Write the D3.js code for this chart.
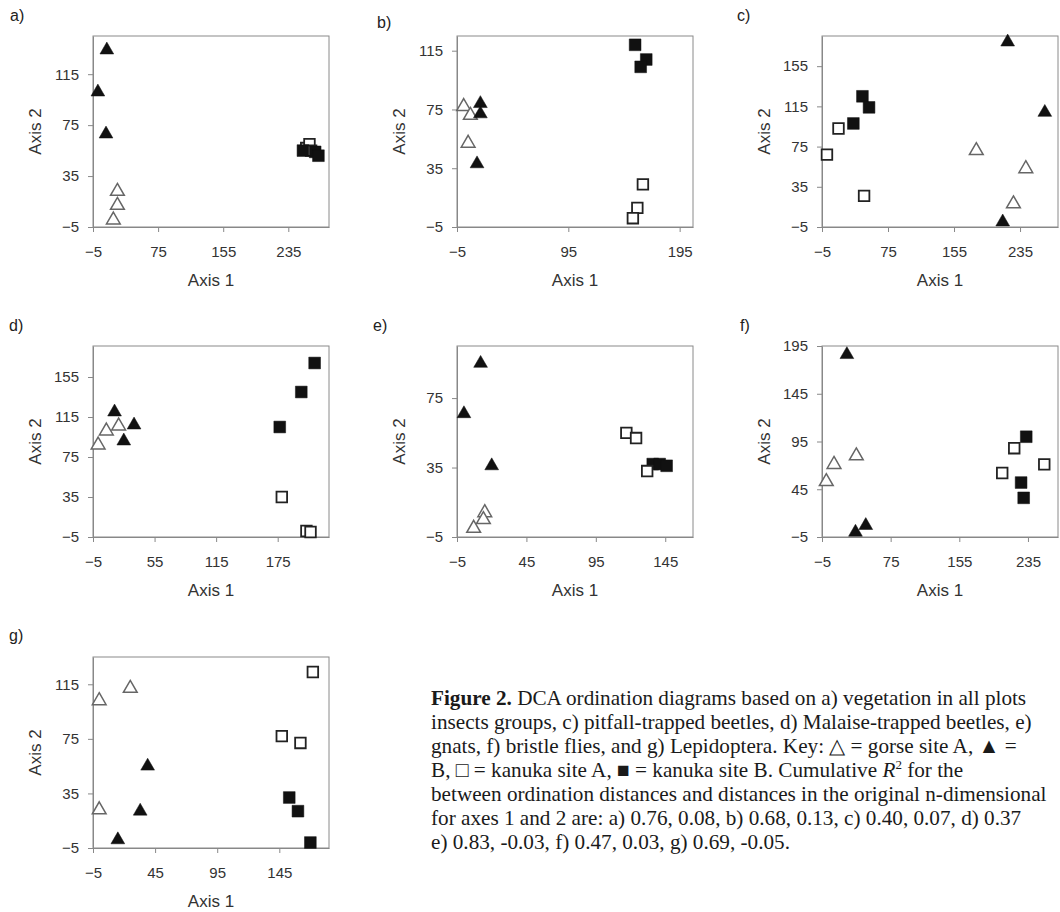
<!DOCTYPE html>
<html>
<head>
<meta charset="utf-8">
<script src="https://cdn.jsdelivr.net/npm/d3@7"></script>
<style>
  body { margin: 0; background: #fff; }
  .tick text { font-family: "Liberation Sans", Arial, sans-serif; font-size: 15px; fill: #333; }
  .tick line { stroke: #888; }
  .domain { stroke: #888; }
</style>
</head>
<body>
<div id="chart-area"></div>
<script>
// Sites (series) in drawing order
var sites = ["gorse site A", "gorse site B", "kanuka site A", "kanuka site B"];

// Points per panel: [site index, axis 1, axis 2]
var ptsA = [[0,25,23],[0,25,12],[0,20,0.5],[1,12,134],[1,1,101],[1,11,68],
	[2,257,57],[2,261,60],[2,263,55],[3,253,55],[3,268,54],[3,272,51]];
var ptsB = [[0,1,77],[0,7,71],[0,5,52],[1,16,79],[1,16,72],[1,13,38],
	[2,162,24],[2,157,8],[2,153,1],[3,155,119],[3,165,109],[3,160,104]];
var ptsC = [[0,182,71],[0,242,53],[0,227,18],[1,220,179],[1,265,109],[1,214,0],
	[2,15,93],[2,1,67],[2,46,26],[3,44,125],[3,52,114],[3,33,98]];
var ptsD = [[0,0,87],[0,8,101],[0,20,106],[1,16,120],[1,35,107],[1,25,91],
	[2,179,35],[2,203,1],[2,207,0],[3,211,169],[3,198,140],[3,177,105]];
var ptsE = [[0,15,9],[0,14,5],[0,7,0],[1,12,95],[1,0,66],[1,20,36],
	[3,136,37],[3,141,37],[3,146,36],[2,117,55],[2,124,52],[2,132,33]];
var ptsF = [[0,0,53],[0,9,71],[0,35,80],[1,24,186],[1,34,0],[1,46,7],
	[2,205,62],[2,219,88],[2,254,71],[3,233,100],[3,227,52],[3,230,36]];
var ptsG = [[0,0,103],[0,25,112],[0,0,23],[1,39,55],[1,33,22],[1,15,1],
	[2,172,124],[2,147,77],[2,162,72],[3,153,32],[3,160,22],[3,170,-1]];

// Axis ranges and tick labels
var xDomA = [-5, 285], yDomA = [-5, 145];
var xDomB = [-5, 207], yDomB = [-5, 125];
var xDomC = [-5, 281], yDomC = [-5, 185];
var xDomD = [-5, 225], yDomD = [-5, 186];
var xDomE = [-5, 165], yDomE = [-5, 105];
var xDomF = [-5, 270], yDomF = [-5, 195];
var xDomG = [-5, 185], yDomG = [-5, 135];

var xTicksA = [-5, 75, 155, 235], yTicksA = [-5, 35, 75, 115];
var xTicksB = [-5, 95, 195], yTicksB = [-5, 35, 75, 115];
var xTicksC = [-5, 75, 155, 235], yTicksC = [-5, 35, 75, 115, 155];
var xTicksD = [-5, 55, 115, 175], yTicksD = [-5, 35, 75, 115, 155];
var xTicksE = [-5, 45, 95, 145], yTicksE = [-5, 35, 75];
var xTicksF = [-5, 75, 155, 235], yTicksF = [-5, 45, 95, 145, 195];
var xTicksG = [-5, 45, 95, 145], yTicksG = [-5, 35, 75, 115];

var captionLines = [
	"DCA ordination diagrams based on a) vegetation in all plots",
	"insects groups, c) pitfall-trapped beetles, d) Malaise-trapped beetles, e)",
	"gnats, f) bristle flies, and g) Lepidoptera. Key: \u25B3 = gorse site A, \u25B2 =",
	"B, \u25A1 = kanuka site A, \u25A0 = kanuka site B. Cumulative ",
	"between ordination distances and distances in the original n-dimensional",
	"for axes 1 and 2 are: a) 0.76, 0.08, b) 0.68, 0.13, c) 0.40, 0.07, d) 0.37",
	"e) 0.83, -0.03, f) 0.47, 0.03, g) 0.69, -0.05."
];

// Layout
var width = 1060, height = 912;
var boxW = 236, boxH = 191;
var cols = [93, 457, 822], rows = [36, 346, 657];

var panels = [
	{ label: "a)", col: 0, row: 0, pts: ptsA, xDom: xDomA, yDom: yDomA, xTicks: xTicksA, yTicks: yTicksA, lx: -83, ly: -15 },
	{ label: "b)", col: 1, row: 0, pts: ptsB, xDom: xDomB, yDom: yDomB, xTicks: xTicksB, yTicks: yTicksB, lx: -80, ly: -8 },
	{ label: "c)", col: 2, row: 0, pts: ptsC, xDom: xDomC, yDom: yDomC, xTicks: xTicksC, yTicks: yTicksC, lx: -85, ly: -15 },
	{ label: "d)", col: 0, row: 1, pts: ptsD, xDom: xDomD, yDom: yDomD, xTicks: xTicksD, yTicks: yTicksD, lx: -84, ly: -15 },
	{ label: "e)", col: 1, row: 1, pts: ptsE, xDom: xDomE, yDom: yDomE, xTicks: xTicksE, yTicks: yTicksE, lx: -84, ly: -15 },
	{ label: "f)", col: 2, row: 1, pts: ptsF, xDom: xDomF, yDom: yDomF, xTicks: xTicksF, yTicks: yTicksF, lx: -82, ly: -15 },
	{ label: "g)", col: 0, row: 2, pts: ptsG, xDom: xDomG, yDom: yDomG, xTicks: xTicksG, yTicks: yTicksG, lx: -84, ly: -16 }
];

var svg = d3.select("#chart-area").append("svg")
	.attr("width", width)
	.attr("height", height)
	.style("display", "block");

// Marker styles per site
var triangle = d3.symbol().type(d3.symbolTriangle).size(82);
var square = d3.symbol().type(d3.symbolSquare).size(138);
var openSquare = d3.symbol().type(d3.symbolSquare).size(112);

function markerPath(site) {
	if (site == 0 || site == 1) return triangle();
	if (site == 2) return openSquare();
	return square();
}

panels.forEach(function (p) {
	var g = svg.append("g")
		.attr("transform", "translate(" + cols[p.col] + ", " + rows[p.row] + ")");

	var x = d3.scaleLinear().domain(p.xDom).range([0, boxW]);
	var y = d3.scaleLinear().domain(p.yDom).range([boxH, 0]);

	// plot area frame
	g.append("rect")
		.attr("x", 0)
		.attr("y", 0)
		.attr("width", boxW)
		.attr("height", boxH)
		.attr("fill", "none")
		.attr("stroke", "#8a8a8a")
		.attr("stroke-width", 1);

	var xAxis = d3.axisBottom(x)
		.tickValues(p.xTicks)
		.tickSize(5)
		.tickPadding(14)
		.tickSizeOuter(0)
		.tickFormat(d3.format("d"));
	g.append("g")
		.attr("class", "x axis")
		.attr("transform", "translate(0, " + boxH + ")")
		.call(xAxis);

	var yAxis = d3.axisLeft(y)
		.tickValues(p.yTicks)
		.tickSize(5)
		.tickPadding(9)
		.tickSizeOuter(0)
		.tickFormat(d3.format("d"));
	g.append("g")
		.attr("class", "y axis")
		.call(yAxis);

	// labels
	g.append("text")
		.attr("x", p.lx)
		.attr("y", p.ly)
		.attr("font-family", "Liberation Sans, Arial, sans-serif")
		.attr("font-size", "16px")
		.attr("fill", "#222")
		.text(p.label);

	g.append("text")
		.attr("x", boxW / 2)
		.attr("y", boxH + 59)
		.attr("text-anchor", "middle")
		.attr("font-family", "Liberation Sans, Arial, sans-serif")
		.attr("font-size", "17px")
		.attr("fill", "#333")
		.text("Axis 1");

	g.append("text")
		.attr("transform", "translate(-52, " + (boxH / 2) + ") rotate(-90)")
		.attr("text-anchor", "middle")
		.attr("font-family", "Liberation Sans, Arial, sans-serif")
		.attr("font-size", "17px")
		.attr("fill", "#333")
		.text("Axis 2");

	// points
	g.selectAll("path.pt")
		.data(p.pts)
		.enter()
		.append("path")
			.attr("class", "pt")
			.attr("d", function (d) { return markerPath(d[0]); })
			.attr("transform", function (d) { return "translate(" + x(d[1]) + ", " + y(d[2]) + ")"; })
			.attr("fill", function (d) { return (d[0] == 1 || d[0] == 3) ? "#111" : "#fff"; })
			.attr("stroke", function (d) {
				if (d[0] == 0) return "#666";
				if (d[0] == 2) return "#222";
				return "#111";
			})
			.attr("stroke-width", function (d) {
				if (d[0] == 0) return 1.5;
				if (d[0] == 2) return 1.8;
				return 0.5;
			});
});

// Caption
var cap = svg.append("text")
	.attr("font-family", "Liberation Serif, Times New Roman, serif")
	.attr("font-size", "21.2px")
	.attr("fill", "#1a1a1a");

var capX = 431, capY = 705, lineH = 24;

captionLines.forEach(function (line, i) {
	var t = cap.append("tspan")
		.attr("x", capX)
		.attr("y", capY + i * lineH);
	if (i == 0) {
		t.append("tspan").attr("font-weight", "bold").text("Figure 2.");
		t.append("tspan").text(" " + line);
	} else if (i == 3) {
		t.append("tspan").text(line);
		t.append("tspan").attr("font-style", "italic").text("R");
		t.append("tspan").attr("dy", -8).attr("font-size", "13px").text("2");
		t.append("tspan").attr("dy", 8).text(" for the");
	} else {
		t.text(line);
	}
});
</script>
</body>
</html>
